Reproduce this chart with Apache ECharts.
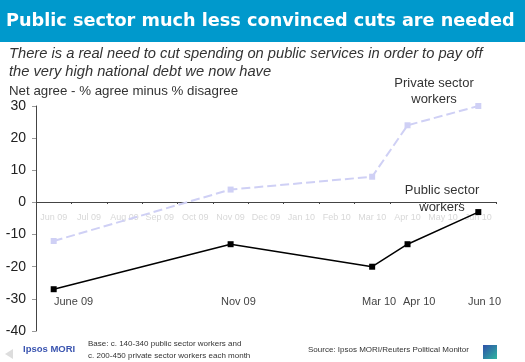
<!DOCTYPE html>
<html>
<head>
<meta charset="utf-8">
<script src="https://cdn.jsdelivr.net/npm/echarts@6/dist/echarts.min.js"></script>
<style>
  html, body { margin: 0; padding: 0; background: #fff; }
  #chart { width: 525px; height: 362px; }
</style>
</head>
<body>
<div id="chart"></div>
<script>
const months = ['Jun 09', 'Jul 09', 'Aug 09', 'Sep 09', 'Oct 09', 'Nov 09', 'Dec 09', 'Jan 10', 'Feb 10', 'Mar 10', 'Apr 10', 'May 10', 'Jun 10']
const shownMonths = ['June 09', 'Nov 09', 'Mar 10', 'Apr 10', 'Jun 10']
const privateSector = [-12, null, null, null, null, 4, null, null, null, 8, 24, null, 30]
const publicSector = [-27, null, null, null, null, -13, null, null, null, -20, -13, null, -3]

const font = '"Liberation Sans", Arial, sans-serif'
const chart = echarts.init(document.getElementById('chart'), null, { renderer: 'canvas' })

function text(x, y, str, size, extra) {
  return {
    type: 'text',
    x: x,
    y: y,
    z: 20,
    style: Object.assign({
      text: str,
      font: size + 'px ' + font,
      fill: '#333',
      verticalAlign: 'middle'
    }, extra || {})
  }
}

// the month labels in the original are hand placed, not centred on the points
const shownMonthX = [54, 221, 362, 403, 468]

chart.setOption({
  animation: false,
  backgroundColor: '#fff',
  grid: { left: 36, right: 29, top: 106, bottom: 31 },
  xAxis: {
    // faint month labels hanging off the zero line
    type: 'category',
    position: 'bottom',
    offset: -129,
    data: months,
    axisLine: { onZero: false, lineStyle: { color: '#444', width: 1 } },
    axisTick: { show: true, length: 2, lineStyle: { color: '#444' } },
    axisLabel: { interval: 0, hideOverlap: false, margin: 11, fontSize: 9, fontFamily: font, color: '#d8d8d8' },
    splitLine: { show: false }
  },
  yAxis: {
    type: 'value',
    min: -40,
    max: 30,
    interval: 10,
    axisLine: { show: true, lineStyle: { color: '#444', width: 1 } },
    axisTick: { show: true, length: 4, lineStyle: { color: '#999' } },
    axisLabel: { margin: 10, fontSize: 14, fontFamily: font, color: '#222' },
    splitLine: { show: false }
  },
  series: [
    {
      name: 'Private sector workers',
      type: 'line',
      data: privateSector,
      connectNulls: true,
      symbol: 'rect',
      symbolSize: 6,
      lineStyle: { color: '#cfd0f5', width: 2, type: [9, 4] },
      itemStyle: { color: '#cfd0f5' }
    },
    {
      name: 'Public sector workers',
      type: 'line',
      data: publicSector,
      connectNulls: true,
      symbol: 'rect',
      symbolSize: 6,
      lineStyle: { color: '#000', width: 1.5 },
      itemStyle: { color: '#000' }
    }
  ],
  graphic: [
    { type: 'rect', shape: { x: 0, y: 0, width: 525, height: 42 }, style: { fill: '#0099cc' }, z: 10 },
    text(6, 21, 'Public sector much less convinced cuts are needed', 17.7, { fill: '#fff', font: 'bold 17.7px "DejaVu Sans", sans-serif' }),
    text(9, 54, 'There is a real need to cut spending on public services in order to pay off', 14.7, { font: 'italic 14.7px ' + font }),
    text(9, 72, 'the very high national debt we now have', 14.7, { font: 'italic 14.7px ' + font }),
    text(9, 91, 'Net agree - % agree minus % disagree', 13.3),
    text(434, 83, 'Private sector', 13, { textAlign: 'center' }),
    text(434, 99, 'workers', 13, { textAlign: 'center' }),
    text(442, 190, 'Public sector', 13, { textAlign: 'center' }),
    text(442, 207, 'workers', 13, { textAlign: 'center' })
  ].concat(
    shownMonths.map((m, i) => text(shownMonthX[i], 302, m, 11, { fill: '#444' })),
    [
      text(23, 349, 'Ipsos MORI', 9.5, { fill: '#3b55b0', font: 'bold 9.5px ' + font }),
      text(88, 344, 'Base: c. 140-340 public sector workers and', 8),
      text(88, 356, 'c. 200-450 private sector workers each month', 8),
      text(308, 350, 'Source: Ipsos MORI/Reuters Political Monitor', 8),
      {
        type: 'rect',
        shape: { x: 483, y: 345, width: 14, height: 14 },
        style: {
          fill: new echarts.graphic.LinearGradient(0, 0, 1, 1, [
            { offset: 0, color: '#2f4fa8' },
            { offset: 1, color: '#2fb5a0' }
          ])
        },
        z: 20
      },
      { type: 'polygon', shape: { points: [[5, 354], [13, 349], [13, 359]] }, style: { fill: '#ddd' }, z: 20 }
    ]
  )
})
</script>
</body>
</html>
